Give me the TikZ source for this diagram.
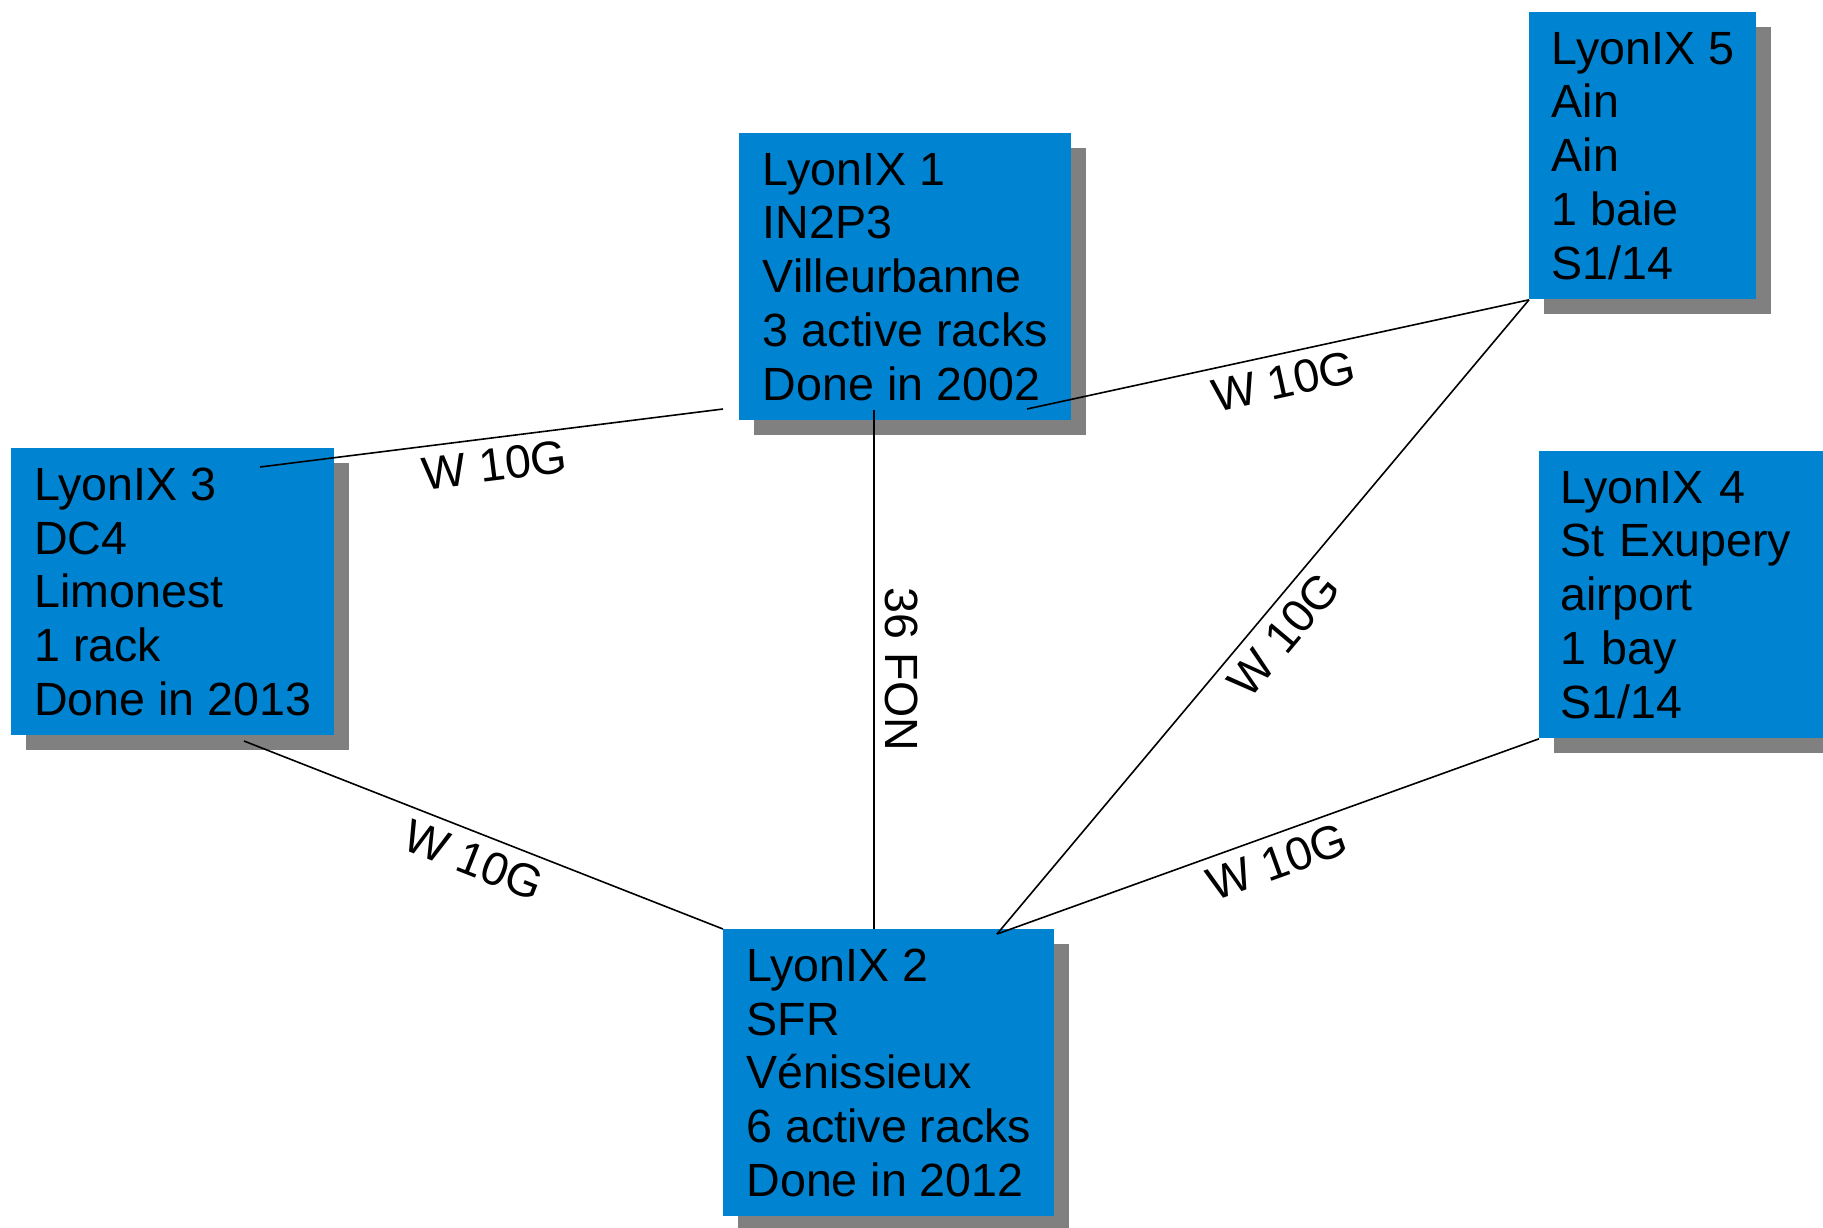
\documentclass[tikz,border=0pt]{standalone}
\usepackage{fontspec}
\setmainfont{Liberation Sans}
\usetikzlibrary{shadows}
\definecolor{ixblue}{RGB}{0,131,208}
\definecolor{ixshadow}{RGB}{128,128,128}

\begin{document}
\begin{tikzpicture}[
      x=0.5pt, y=-0.5pt,
      site/.style={anchor=north west, fill=ixblue, inner xsep=10.5pt,
        minimum height=143.5pt, align=left,
        font=\fontsize{23.3pt}{26.9pt}\selectfont,
        drop shadow={shadow xshift=7.5pt, shadow yshift=-7.5pt,
          fill=ixshadow, opacity=1}},
      link/.style={draw, line width=0.8pt},
      speed/.style={font=\fontsize{23.3pt}{26.9pt}\selectfont, inner sep=5pt}
    ]
    \useasboundingbox (0,0) rectangle (1823,1227);
    \clip (0,0) rectangle (1823,1227);
    % sites
    \node[site, minimum width=166pt] (lx1) at (739,133)
      {LyonIX 1\\IN2P3\\Villeurbanne\\3 active racks\\Done in 2002};
    \node[site, minimum width=161.5pt] (lx3) at (11,448)
      {LyonIX 3\\DC4\\Limonest\\1 rack\\Done in 2013};
    \node[site, minimum width=113.5pt] (lx5) at (1529,12)
      {LyonIX 5\\Ain\\Ain\\1 baie\\S1/14};
    \node[site, text width=129pt] (lx4) at (1539,451)
      {LyonIX 4\\St Exupery\\airport\\1 bay\\S1/14};
    \node[site, minimum width=165.5pt] (lx2) at (723,929)
      {LyonIX 2\\SFR\\Vénissieux\\6 active racks\\Done in 2012};
    % link ends
    \coordinate (e31) at (260,467);
    \coordinate (w1) at (723,409);
    \coordinate (e15) at (1027,409);
    \coordinate (s1) at (874,410);
    \coordinate (c2) at (997,934);
    \coordinate (s3) at (244,741);
    % links
    \draw[link] (e31) -- node[speed, sloped, below, midway] (sp31) {W 10G} (w1);
    \draw[link] (e15) -- node[speed, sloped, below, midway] (sp15) {W 10G} (lx5.south west);
    \draw[link] (c2) -- node[speed, sloped, below, midway] (sp25) {W 10G} (lx5.south west);
    \draw[link] (c2) -- node[speed, sloped, below, midway] (sp24) {W 10G} (lx4.south west);
    \draw[link] (s3) -- node[speed, sloped, below, midway] (sp32) {W 10G} (lx2.north west);
    \draw[link] (s1) -- node[speed, rotate=-90, anchor=south, midway] (fon) {36 FON} (s1 |- lx2.north);
\end{tikzpicture}
\end{document}
